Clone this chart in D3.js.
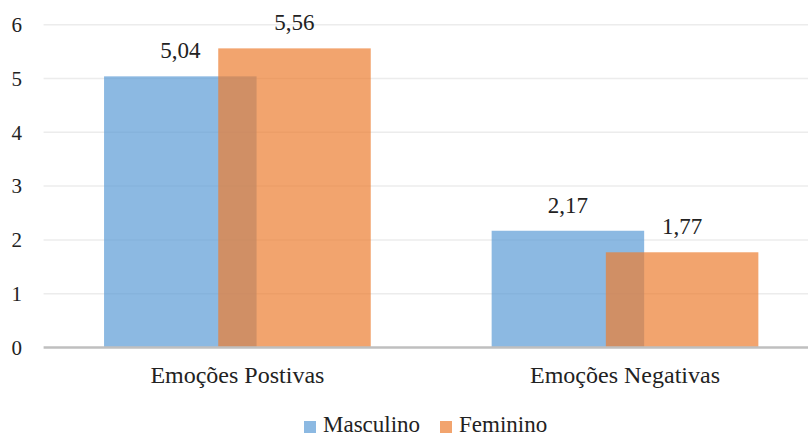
<!DOCTYPE html>
<html><head><meta charset="utf-8">
<script src="https://cdn.jsdelivr.net/npm/d3@7"></script>
</head><body style="margin:0"><svg id="c" width="808" height="436" style="display:block"></svg>
<script>
const categories = ["Emoções Postivas", "Emoções Negativas"];
const seriesNames = ["Masculino", "Feminino"];
const masculino = [5.04, 2.17];
const feminino = [5.56, 1.77];
const yTicks = [0, 1, 2, 3, 4, 5, 6];
const colors = ["#5b9bd5", "#ed7d31"];

const FONT = "Liberation Serif";
const svg = d3.select("#c");
const plotL = 43.6, plotR = 818.8, plotT = 24.7, plotB = 347.5;
const x = d3.scaleBand().domain(categories).range([plotL, plotR]).padding(0);
const y = d3.scaleLinear().domain([0, 6]).range([plotB, plotT]);
const barW = x.bandwidth() * 0.3935;
const offset = x.bandwidth() * 0.1473;

function styleText(sel, size) {
  return sel.attr("font-family", () => FONT)
    .style("font-family", "'Liberation Serif', serif", "important")
    .attr("font-size", size).attr("fill", "#222");
}

// gridlines
svg.selectAll("line.grid").data(yTicks.filter(d => d > 0)).join("line").attr("class", "grid")
  .attr("x1", plotL).attr("x2", 808).attr("y1", d => y(d)).attr("y2", d => y(d))
  .attr("stroke", "#ececec").attr("stroke-width", 1.5);

const series = [masculino, feminino];
series.forEach((vals, si) => {
  const cx = c => x(c) + x.bandwidth() / 2 + (si === 0 ? -offset : offset);
  svg.selectAll("rect.s" + si).data(categories).join("rect").attr("class", "s" + si)
    .attr("x", c => cx(c) - barW / 2).attr("width", barW)
    .attr("y", (c, i) => y(vals[i])).attr("height", (c, i) => y(0) - y(vals[i]))
    .attr("fill", colors[si]).attr("fill-opacity", 0.7);
});

// baseline
svg.append("line").attr("x1", plotL).attr("x2", 808).attr("y1", y(0)).attr("y2", y(0))
  .attr("stroke", "#bfbfbf").attr("stroke-width", 2.5);

// y tick labels
styleText(svg.selectAll("text.tick").data(yTicks).join("text").attr("class", "tick")
  .attr("x", 22).attr("y", d => y(d)).attr("dy", "0.35em")
  .attr("text-anchor", "end"), 21).text(d => d);

// value labels
series.forEach((vals, si) => {
  const cx = c => x(c) + x.bandwidth() / 2 + (si === 0 ? -offset : offset);
  styleText(svg.selectAll("text.v" + si).data(categories).join("text").attr("class", "v" + si)
    .attr("x", c => cx(c)).attr("y", (c, i) => y(vals[i]) - 18)
    .attr("text-anchor", "middle"), 23)
    .text((c, i) => vals[i].toFixed(2).replace(".", ","));
});

// category labels
styleText(svg.selectAll("text.cat").data(categories).join("text").attr("class", "cat")
  .attr("x", c => x(c) + x.bandwidth() / 2).attr("y", 383)
  .attr("text-anchor", "middle"), 24).text(c => c);

// legend
const legendX = [304, 440];
seriesNames.forEach((n, i) => {
  svg.append("rect").attr("x", legendX[i]).attr("y", 421).attr("width", 12).attr("height", 12)
    .attr("fill", colors[i]).attr("fill-opacity", 0.7);
  styleText(svg.append("text").attr("x", legendX[i] + 19).attr("y", 432), 23).text(n);
});
</script></body></html>
